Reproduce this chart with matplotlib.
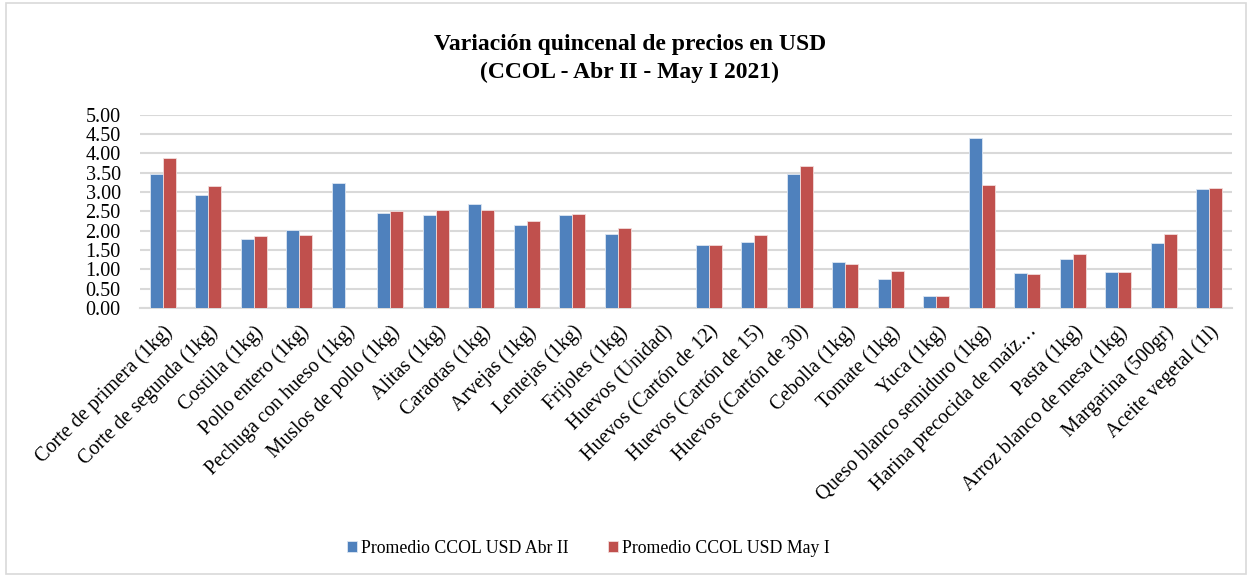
import matplotlib.pyplot as plt
import numpy as np

productos = [
    "Corte de primera (1kg)", "Corte de segunda (1kg)", "Costilla (1kg)",
    "Pollo entero (1kg)", "Pechuga con hueso (1kg)", "Muslos de pollo (1kg)",
    "Alitas (1kg)", "Caraotas (1kg)", "Arvejas (1kg)", "Lentejas (1kg)",
    "Frijoles (1kg)", "Huevos (Unidad)", "Huevos (Cartón de 12)",
    "Huevos (Cartón de 15)", "Huevos (Cartón de 30)", "Cebolla (1kg)",
    "Tomate (1kg)", "Yuca (1kg)", "Queso blanco semiduro (1kg)",
    "Harina precocida de maíz…", "Pasta (1kg)", "Arroz blanco de mesa (1kg)",
    "Margarina (500gr)", "Aceite vegetal (1l)",
]

abr_ii = [3.47, 2.93, 1.78, 2.02, 3.24, 2.47, 2.40, 2.70, 2.15, 2.42, 1.91, 0.0,
          1.63, 1.72, 3.46, 1.19, 0.75, 0.31, 4.40, 0.90, 1.28, 0.94, 1.68, 3.09]
may_i = [3.88, 3.16, 1.87, 1.89, 0.0, 2.52, 2.54, 2.54, 2.26, 2.44, 2.08, 0.0,
         1.63, 1.88, 3.67, 1.15, 0.95, 0.32, 3.18, 0.87, 1.41, 0.93, 1.91, 3.12]

serie_1 = "Promedio CCOL USD Abr II"
serie_2 = "Promedio CCOL USD May I"

plt.rcParams['font.family'] = ['Liberation Serif', 'DejaVu Serif']

fig = plt.figure(figsize=(12.52, 5.77), dpi=100)
ax = fig.add_axes([0.112, 0.466, 0.872, 0.335])

x = np.arange(len(productos))
w = 0.286
ax.bar(x - w / 2, abr_ii, w, color='#4F81BD', edgecolor='#DCE6F2',
       linewidth=0.6, label=serie_1, zorder=3)
ax.bar(x + w / 2, may_i, w, color='#C0504D', edgecolor='#F2DCDB',
       linewidth=0.6, label=serie_2, zorder=3)

ax.set_xlim(-0.5, len(productos) - 0.5)
ax.set_ylim(0, 5)
ax.set_yticks(np.arange(0, 5.01, 0.5))
ax.set_yticklabels([f"{v:.2f}" for v in np.arange(0, 5.01, 0.5)], fontsize=14.5)
ax.yaxis.grid(True, color='#D9D9D9', linewidth=1.5, zorder=0)
ax.tick_params(axis='y', length=0, pad=14)
ax.tick_params(axis='x', length=0, pad=10)

ax.set_xticks(x)
ax.set_xticklabels(productos, rotation=45, ha='right', rotation_mode='anchor',
                   fontsize=14.5)

for side in ['top', 'right', 'left']:
    ax.spines[side].set_visible(False)
ax.spines['bottom'].set_color('#D9D9D9')
ax.spines['bottom'].set_linewidth(1.5)

# titulo en dos lineas
fig.text(0.503, 0.899, "Variación quincenal de precios en USD\n(CCOL - Abr II - May I 2021)",
         ha='center', va='center', fontsize=17, fontweight='bold', linespacing=1.4)

fig.legend(loc='center', bbox_to_anchor=(0.47, 0.05), ncol=2, frameon=False,
           fontsize=12.8, handlelength=0.55, handleheight=0.55, handletextpad=0.25,
           columnspacing=2.2)

fig.add_artist(plt.Rectangle((0.005, 0.006), 0.99, 0.988, transform=fig.transFigure,
                             fill=False, edgecolor='#D9D9D9', linewidth=1.2))

plt.savefig('out.png', dpi=100)
